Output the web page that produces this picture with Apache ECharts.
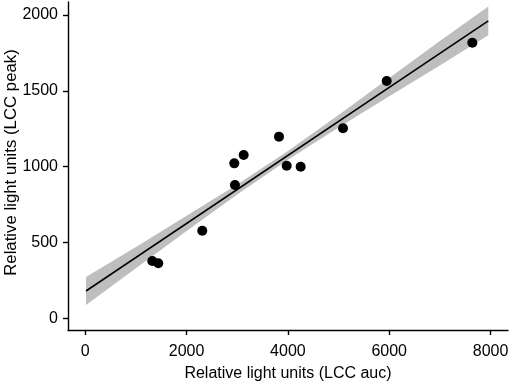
<!DOCTYPE html>
<html>
<head>
<meta charset="utf-8">
<script src="https://cdn.jsdelivr.net/npm/echarts@6/dist/echarts.min.js"></script>
<style>
html,body{margin:0;padding:0;background:#fff;}
#chart{width:510px;height:387px;}
</style>
</head>
<body>
<div id="chart"></div>
<script>
// Observed points (LCC auc vs LCC peak)
var pointX = [1323, 1441, 2310, 2942, 3127, 2955, 3824, 3976, 4252, 5088, 5950, 7641];
var pointY = [378, 363, 578, 1022, 1077, 879, 1198, 1006, 1000, 1253, 1565, 1817];

// Fitted line
var fitX = [14, 7956];
var fitY = [180, 1962];

// Confidence band
var bandX = [14, 1000, 2000, 3000, 4000, 5000, 6000, 7000, 7956];
var bandUpper = [272, 471, 676, 883, 1104, 1340, 1584, 1828, 2057];
var bandLower = [88, 331, 576, 817, 1046, 1258, 1464, 1668, 1867];

// Tick labels
var xTicks = [0, 2000, 4000, 6000, 8000];
var yTicks = [0, 500, 1000, 1500, 2000];

var FONT = 'Liberation Sans, Arial, Helvetica, sans-serif';

var chart = echarts.init(document.getElementById('chart'), null, {renderer: 'canvas'});

var scatterData = pointX.map(function (x, i) { return [x, pointY[i]]; });
var fitData = fitX.map(function (x, i) { return [x, fitY[i]]; });

function plain(v) { return String(v); }

var axisCommon = {
  type: 'value',
  nameLocation: 'middle',
  nameMoveOverlap: false,
  nameTextStyle: {color: '#000', fontSize: 16, fontFamily: FONT},
  axisLine: {show: true, onZero: false, lineStyle: {color: '#000', width: 1.4}},
  axisTick: {show: true, length: 5, lineStyle: {color: '#000', width: 1.4}},
  axisLabel: {color: '#000', fontSize: 16, fontFamily: FONT, formatter: plain},
  splitLine: {show: false}
};

var option = {
  animation: false,
  backgroundColor: '#fff',
  grid: {left: 68, right: 2, top: 2, bottom: 57, containLabel: false, outerBoundsMode: 'none'},
  xAxis: Object.assign({}, axisCommon, {
    min: -341, max: 8345,
    name: 'Relative light units (LCC auc)',
    nameGap: 36,
    axisTick: Object.assign({}, axisCommon.axisTick, {customValues: xTicks}),
    axisLabel: Object.assign({}, axisCommon.axisLabel, {customValues: xTicks, margin: 14})
  }),
  yAxis: Object.assign({}, axisCommon, {
    min: -77, max: 2086,
    name: 'Relative light units (LCC peak)',
    nameGap: 48,
    nameTextStyle: {color: '#000', fontSize: 16.8, fontFamily: FONT, padding: [0, 0, 0, 7]},
    axisTick: Object.assign({}, axisCommon.axisTick, {customValues: yTicks}),
    axisLabel: Object.assign({}, axisCommon.axisLabel, {customValues: yTicks, margin: 10})
  }),
  series: [
    {
      type: 'custom',
      z: 1,
      silent: true,
      data: [[bandX[0], bandLower[0]]],
      encode: {x: 0, y: 1},
      renderItem: function (params, api) {
        var pts = [];
        for (var i = 0; i < bandX.length; i++) pts.push(api.coord([bandX[i], bandUpper[i]]));
        for (var j = bandX.length - 1; j >= 0; j--) pts.push(api.coord([bandX[j], bandLower[j]]));
        return {type: 'polygon', shape: {points: pts}, style: {fill: '#bebebe'}};
      }
    },
    {
      type: 'line',
      z: 2,
      data: fitData,
      symbol: 'none',
      lineStyle: {color: '#000', width: 1.6},
      silent: true
    },
    {
      type: 'scatter',
      z: 3,
      data: scatterData,
      symbol: 'circle',
      symbolSize: 10,
      itemStyle: {color: '#000', opacity: 1},
      silent: true
    }
  ]
};
chart.setOption(option);
</script>
</body>
</html>
